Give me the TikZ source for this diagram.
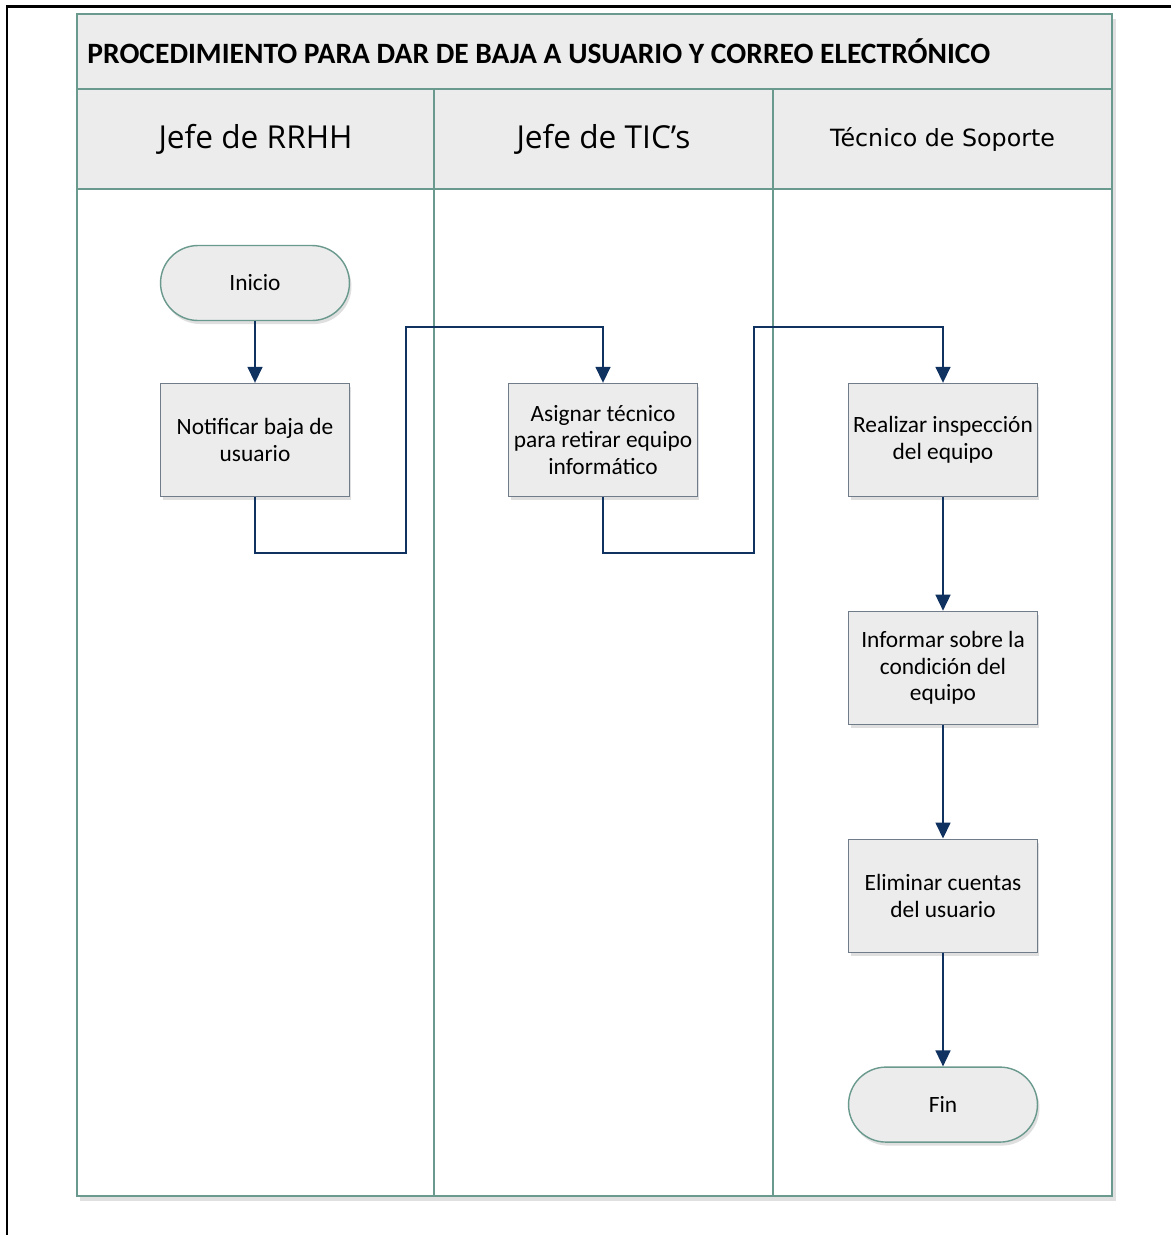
\documentclass[tikz,border=0pt]{standalone}
\usepackage{fontspec}
\setmainfont{Carlito}
\newfontfamily\cabecerafont{Open Sans}
\newfontfamily\soportefont{DejaVu Sans}
\usetikzlibrary{shapes.misc,arrows.meta,positioning,shadows}
\definecolor{verdecarril}{RGB}{106,153,141}
\definecolor{grisfondo}{RGB}{236,236,236}
\definecolor{grisborde}{RGB}{112,124,138}
\definecolor{azulflecha}{RGB}{16,50,96}
\tikzstyle{carril} = [draw=verdecarril, line width=1.1pt, rectangle, inner sep=0pt]
\tikzstyle{cabecera} = [carril, fill=grisfondo, minimum height=2cm, font=\cabecerafont\fontsize{18}{21}\selectfont]
\tikzstyle{proceso} = [draw=grisborde, line width=0.8pt, fill=grisfondo, rectangle, minimum width=3.78cm, minimum height=2.26cm, align=center, inner sep=2pt, font=\fontsize{13.3}{15.2}\selectfont, drop shadow={opacity=0.25, shadow xshift=0.04cm, shadow yshift=-0.07cm}]
\tikzstyle{terminal} = [proceso, rounded rectangle, draw=verdecarril, minimum width=3.92cm, minimum height=1.5cm]
\tikzstyle{flecha} = [draw=azulflecha, line width=0.9pt, -{Triangle[length=0.32cm, width=0.3cm]}]
\begin{document}
\begin{tikzpicture}[x=0.02cm, y=-0.02cm]
					\useasboundingbox (0,0) rectangle (1171,1235);
					\draw[line width=1.7pt] (7,1235) -- (7,6) -- (1171,6);
					\fill[black, opacity=0.12] (80,19) rectangle (1116,1201);
					\node[carril, fill=grisfondo, minimum width=20.7cm, minimum height=1.5cm] (titulo) at (594.5,51.5) {};
					\node[right=0.22cm, inner sep=0pt, font=\bfseries\fontsize{16.8}{20}\selectfont] at (titulo.west) {PROCEDIMIENTO PARA DAR DE BAJA A USUARIO Y CORREO ELECTRÓNICO};
					\node[cabecera, minimum width=7.14cm] (cabrrhh) at (255.5,139) {Jefe de RRHH};
					\node[cabecera, minimum width=6.78cm] (cabtic) at (603.5,139) {Jefe de TIC’s};
					\node[cabecera, minimum width=6.78cm, font=\soportefont\fontsize{13.5}{16}\selectfont] (cabsoporte) at (942.5,139) {Técnico de Soporte};
					\node[carril, fill=white, minimum width=7.14cm, minimum height=20.14cm] (carrilrrhh) at (255.5,692.5) {};
					\node[carril, fill=white, minimum width=6.78cm, minimum height=20.14cm] (carriltic) at (603.5,692.5) {};
					\node[carril, fill=white, minimum width=6.78cm, minimum height=20.14cm] (carrilsoporte) at (942.5,692.5) {};

					\node[terminal] (inicio) at (255,283) {Inicio};
					\node[proceso] (notificar) at (255,440) {Notificar baja de\\usuario};
					\node[proceso] (asignar) at (603,440) {Asignar técnico\\para retirar equipo\\informático};
					\node[proceso] (inspeccion) at (943,440) {Realizar inspección\\del equipo};
					\node[proceso, below=2.27cm of inspeccion] (informar) {Informar sobre la\\condición del\\equipo};
					\node[proceso, below=2.27cm of informar] (eliminar) {Eliminar cuentas\\del usuario};
					\node[terminal, below=2.27cm of eliminar] (fin) {Fin};

					\coordinate (bajada1) at (406,553);
					\coordinate (subida1) at (406,327);
					\coordinate (bajada2) at (754,553);
					\coordinate (subida2) at (754,327);

					\draw[flecha] (inicio) -- (notificar);
					\draw[flecha] (notificar.south) |- (bajada1) -- (subida1) -| (asignar.north);
					\draw[flecha] (asignar.south) |- (bajada2) -- (subida2) -| (inspeccion.north);
					\draw[flecha] (inspeccion) -- (informar);
					\draw[flecha] (informar) -- (eliminar);
					\draw[flecha] (eliminar) -- (fin);
\end{tikzpicture}
\end{document}
